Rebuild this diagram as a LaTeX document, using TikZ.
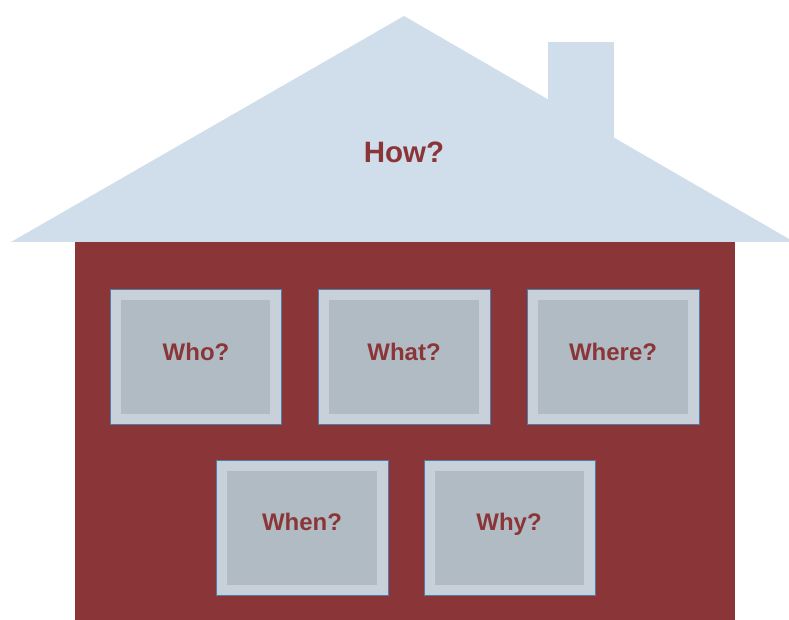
\documentclass[tikz,border=0pt]{standalone}
\usepackage{fontspec}
\setmainfont{Liberation Sans}
\definecolor{brick}{HTML}{8A3638}
\definecolor{roofblue}{HTML}{CFDEEA}
\definecolor{frameblue}{HTML}{C8D1DA}
\definecolor{panegrey}{HTML}{B1BBC4}
\definecolor{edgeblue}{HTML}{4F7CA8}
\tikzset{
  frame/.style={fill=frameblue, draw=edgeblue, line width=0.8pt},
  pane/.style={fill=panegrey, draw=none},
  word/.style={font=\bfseries\fontsize{24}{27}\selectfont, text=brick, inner sep=0pt, text depth=0pt}
}
\begin{document}
\begin{tikzpicture}[x=1pt, y=-1pt]
\useasboundingbox (0,0) rectangle (789,620);
% Roof and chimney
\fill[roofblue] (548,42) rectangle (614,140);
\fill[roofblue] (11,242) -- (404,16) -- (789,239) -- (789,242) -- cycle;
\node[word, font=\bfseries\fontsize{29.5}{32}\selectfont] (how) at (404,152) {How?};
% House body
\fill[brick] (75,242) rectangle (735,620);
% Windows, top row
\draw[frame] (110,289) rectangle (281,424);
\fill[pane] (121,300) rectangle (270,414);
\node[word] (who) at (196,352) {Who?};
\draw[frame] (318,289) rectangle (490,424);
\fill[pane] (329,300) rectangle (479,414);
\node[word] (what) at (404,352) {What?};
\draw[frame] (527,289) rectangle (699,424);
\fill[pane] (538,300) rectangle (688,414);
\node[word] (where) at (613,352) {Where?};
% Windows, bottom row
\draw[frame] (216,460) rectangle (388,595);
\fill[pane] (227,471) rectangle (377,585);
\node[word] (when) at (302,522) {When?};
\draw[frame] (424,460) rectangle (595,595);
\fill[pane] (435,471) rectangle (584,585);
\node[word] (why) at (509,522) {Why?};
\end{tikzpicture}
\end{document}
